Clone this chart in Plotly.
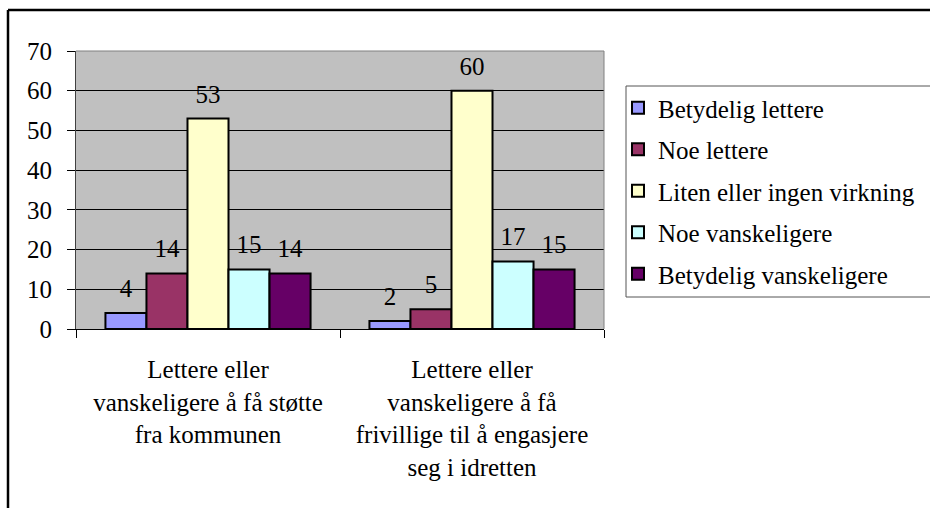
import plotly.graph_objects as go

categories = [
    "Lettere eller<br>vanskeligere å få støtte<br>fra kommunen",
    "Lettere eller<br>vanskeligere å få<br>frivillige til å engasjere<br>seg i idretten",
]
series_names = [
    "Betydelig lettere",
    "Noe lettere",
    "Liten eller ingen virkning",
    "Noe vanskeligere",
    "Betydelig vanskeligere",
]
series_values = [
    [4, 2],
    [14, 5],
    [53, 60],
    [15, 17],
    [14, 15],
]
series_colors = ["#9999FF", "#993366", "#FFFFCC", "#CCFFFF", "#660066"]
y_ticks = [0, 10, 20, 30, 40, 50, 60, 70]

W, H = 930, 508
ML, MR, MT, MB = 76, 326, 51, 179
PW, PH = W - ML - MR, H - MT - MB
FONT = "Liberation Serif, Times New Roman, serif"
FS = 25
BARGAP = 0.223


def px(x):
    return (x - ML) / PW


def py(y):
    return (H - MB - y) / PH


fig = go.Figure()
for i, (name, vals, col) in enumerate(zip(series_names, series_values, series_colors)):
    fig.add_trace(go.Bar(
        x=categories, y=vals, name=name,
        marker=dict(color=col, line=dict(color="black", width=2)),
        legendgroup=f"g{i}", hoverinfo="skip",
    ))
for i, vals in enumerate(series_values):
    fig.add_trace(go.Scatter(
        x=categories, y=vals, mode="markers+text", text=[str(v) for v in vals],
        textposition="top center", textfont=dict(family=FONT, size=FS, color="black"),
        marker=dict(size=14, opacity=0), showlegend=False, hoverinfo="skip",
        cliponaxis=False,
    ))

shapes = [
    # chart outer border (open to the right/bottom as in the reference)
    dict(type="line", xref="paper", yref="paper", x0=px(8), x1=px(W + 20), y0=py(10), y1=py(10),
         line=dict(color="black", width=2.5)),
    dict(type="line", xref="paper", yref="paper", x0=px(8), x1=px(8), y0=py(10), y1=py(H + 20),
         line=dict(color="black", width=2.5)),
    # legend box
    dict(type="line", xref="paper", yref="paper", x0=px(626), x1=px(W + 20), y0=py(86), y1=py(86),
         line=dict(color="#555555", width=1)),
    dict(type="line", xref="paper", yref="paper", x0=px(626), x1=px(626), y0=py(86), y1=py(297),
         line=dict(color="#555555", width=1)),
    dict(type="line", xref="paper", yref="paper", x0=px(626), x1=px(W + 20), y0=py(297), y1=py(297),
         line=dict(color="#555555", width=1)),
    # plot area frame top/right
    dict(type="line", xref="paper", yref="paper", x0=0, x1=1, y0=1, y1=1,
         line=dict(color="#808080", width=1)),
    dict(type="line", xref="paper", yref="paper", x0=1, x1=1, y0=0, y1=1,
         line=dict(color="#808080", width=1)),
]

fig.update_layout(
    width=W, height=H,
    margin=dict(l=ML, r=MR, t=MT, b=MB, autoexpand=False),
    paper_bgcolor="white", plot_bgcolor="#C0C0C0",
    barmode="group", bargap=BARGAP, bargroupgap=0,
    scattermode="group", scattergap=BARGAP,
    font=dict(family=FONT, size=FS, color="black"),
    showlegend=True,
    legend=dict(
        x=px(618), y=py(85), xanchor="left", yanchor="top",
        bgcolor="rgba(0,0,0,0)", borderwidth=0,
        font=dict(family=FONT, size=FS, color="black"),
        tracegroupgap=6, traceorder="grouped",
    ),
    xaxis=dict(
        type="category", tickson="boundaries", ticks="outside", ticklen=8,
        tickcolor="black", tickwidth=1, showline=True, linecolor="black", linewidth=1,
        showgrid=False, tickfont=dict(family=FONT, size=FS, color="black"),
        ticklabelstandoff=18,
    ),
    yaxis=dict(
        range=[0, 70], tickvals=y_ticks, ticks="outside", ticklen=8, tickcolor="black",
        showline=True, linecolor="#404040", linewidth=1,
        showgrid=True, gridcolor="black", gridwidth=1, zeroline=False,
        tickfont=dict(family=FONT, size=FS, color="black"),
        ticklabelstandoff=10,
    ),
    shapes=shapes,
)

fig.write_html(
    "out.html",
    config={"displayModeBar": False},
    post_script="document.body.style.margin='0';document.body.style.padding='0';",
)
